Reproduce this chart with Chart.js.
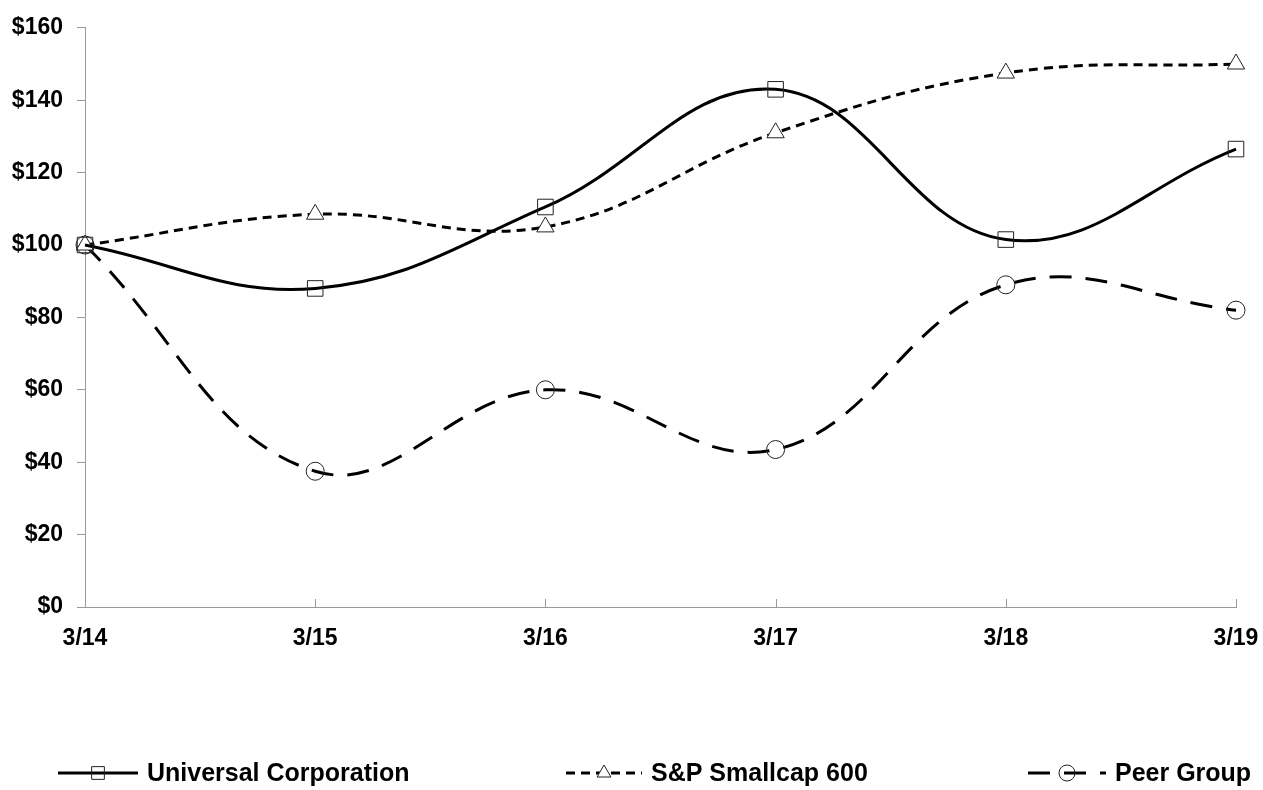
<!DOCTYPE html>
<html>
<head>
<meta charset="utf-8">
<script src="https://cdn.jsdelivr.net/npm/chart.js@4/dist/chart.umd.min.js"></script>
<style>
  html, body { margin: 0; padding: 0; background: #fff; }
  #wrap { width: 1263px; height: 790px; }
</style>
</head>
<body>
<div id="wrap"><canvas id="chart" width="1263" height="790"></canvas></div>
<script>
// data
const labels = ['3/14', '3/15', '3/16', '3/17', '3/18', '3/19'];
const universal = [100, 88, 110.5, 143, 101.5, 126.5];
const smallcap = [100, 108.5, 105, 131, 147.5, 150];
const peerGroup = [100, 37.5, 60, 43.5, 89, 82];

const FONT = "'Liberation Sans', Arial, sans-serif";

// tick marks on x axis point up into the plot
const xTicksUp = {
    id: 'xTicksUp',
    afterDraw(chart) {
        const ctx = chart.ctx;
        const x = chart.scales.x;
        const bottom = chart.chartArea.bottom;
        ctx.save();
        ctx.strokeStyle = '#9a9a9a';
        ctx.lineWidth = 1;
        x.ticks.forEach((t, i) => {
            const px = Math.round(x.getPixelForTick(i)) + 0.5;
            ctx.beginPath();
            ctx.moveTo(px, bottom - 8);
            ctx.lineTo(px, bottom);
            ctx.stroke();
        });
        ctx.restore();
    }
};

// legend at the bottom: line + marker + text
const bottomLegend = {
    id: 'bottomLegend',
    afterDraw(chart) {
        const ctx = chart.ctx;
        const y = 773;
        const items = [
            { ds: 0, x0: 58, len: 80, text: 'Universal Corporation' },
            { ds: 1, x0: 566, len: 76, text: 'S&P Smallcap 600' },
            { ds: 2, x0: 1028, len: 78, text: 'Peer Group' }
        ];
        ctx.save();
        items.forEach(it => {
            const ds = chart.data.datasets[it.ds];
            ctx.strokeStyle = '#000';
            ctx.lineWidth = 3;
            ctx.setLineDash(ds.borderDash || []);
            ctx.beginPath();
            ctx.moveTo(it.x0, y);
            ctx.lineTo(it.x0 + it.len, y);
            ctx.stroke();
            ctx.setLineDash([]);
            ctx.lineWidth = 1;
            ctx.strokeStyle = '#222';
            ctx.fillStyle = ds.pointBackgroundColor;
            Chart.helpers.drawPoint(ctx, {
                pointStyle: ds.pointStyle, radius: ds.pointStyle === 'rect' ? 9 : 8, rotation: 0, borderWidth: 1
            }, it.x0 + it.len / 2, y);
            ctx.fillStyle = '#000';
            ctx.font = 'bold 25px ' + FONT;
            ctx.textBaseline = 'middle';
            ctx.fillText(it.text, it.x0 + it.len + 9, y + 1);
        });
        ctx.restore();
    }
};

new Chart(document.getElementById('chart'), {
    type: 'line',
    data: {
        labels: labels,
        datasets: [
            {
                label: 'Universal Corporation',
                data: universal,
                borderColor: '#000',
                borderWidth: 3,
                tension: 0.4,
                pointStyle: 'rect',
                pointRadius: 11,
                pointBorderWidth: 1,
                pointBorderColor: '#222',
                pointBackgroundColor: 'rgba(0,0,0,0)'
            },
            {
                label: 'S&P Smallcap 600',
                data: smallcap,
                borderColor: '#000',
                borderWidth: 3,
                borderDash: [9, 6],
                tension: 0.4,
                pointStyle: 'triangle',
                pointRadius: 10,
                pointBorderWidth: 1,
                pointBorderColor: '#222',
                pointBackgroundColor: '#fff'
            },
            {
                label: 'Peer Group',
                data: peerGroup,
                borderColor: '#000',
                borderWidth: 3,
                borderDash: [22, 14],
                tension: 0.4,
                pointStyle: 'circle',
                pointRadius: 9,
                pointBorderWidth: 1,
                pointBorderColor: '#222',
                pointBackgroundColor: 'rgba(0,0,0,0)'
            }
        ]
    },
    options: {
        responsive: false,
        animation: false,
        layout: { padding: { top: 27, right: 27, left: 0, bottom: 0 } },
        plugins: {
            legend: { display: false },
            tooltip: { enabled: false }
        },
        scales: {
            x: {
                offset: false,
                grid: { display: false },
                border: { color: '#9a9a9a', width: 1 },
                ticks: {
                    color: '#000',
                    font: { family: FONT, size: 23, weight: 'bold' },
                    padding: 10,
                    maxRotation: 0
                },
                afterFit(scale) {
                    scale.height = 183;
                    scale.paddingRight = 0;
                    scale.paddingLeft = 0;
                }
            },
            y: {
                min: 0,
                max: 160,
                grid: {
                    drawOnChartArea: false,
                    drawTicks: true,
                    tickLength: 8,
                    color: '#9a9a9a'
                },
                border: { color: '#9a9a9a', width: 1 },
                ticks: {
                    stepSize: 20,
                    color: '#000',
                    padding: 14,
                    font: { family: FONT, size: 23, weight: 'bold' },
                    callback: v => '$' + v
                },
                afterFit(scale) { scale.width = 85; }
            }
        }
    },
    plugins: [xTicksUp, bottomLegend]
});
</script>
</body>
</html>
